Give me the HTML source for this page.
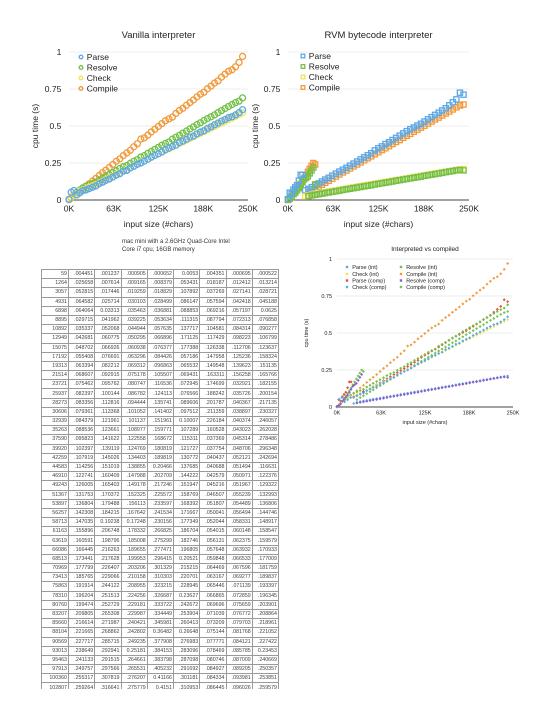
<!DOCTYPE html>
<html><head><meta charset="utf-8">
<style>
html,body{margin:0;padding:0;background:#fff;}
body{width:552px;height:720px;position:relative;overflow:hidden;font-family:"Liberation Sans",sans-serif;}
#svg{position:absolute;left:0;top:0;}
#tablewrap{position:absolute;left:41px;top:269px;width:238px;height:420px;overflow:hidden;}
table{border-collapse:collapse;table-layout:fixed;width:238px;height:424px;}
td{border:1px solid #9a9a9a;height:5px;padding:0 1px 0 0;font-size:5.3px;line-height:6px;text-align:right;color:#444;overflow:hidden;white-space:nowrap;}
td.c0{width:25px;}
</style></head>
<body>
<svg id="svg" width="552" height="720">
<text x="122" y="243" font-size="6" fill="#333">mac mini with a 2.6GHz Quad-Core Intel</text>
<text x="122" y="251" font-size="6" fill="#333">Core i7 cpu, 16GB memory</text>
</svg>
<div id="tablewrap"><table id="tbl"></table></div>
<script>
// ---------- data ----------
const sizes=[59,3057,6898,10892,15075,19313,23721,28273,32939,37590,42259,46910,51367,
56257,61163,66086,70969,75863,80760,85660,90569,95463,100360,105200,110100,115000,
119900,124800,129700,134600,139500,144400,149300,154200,159100,164000,168900,173800,178700,
183600,188500,193400,198300,203200,208100,213000,217900,222800,227700,232600,237500,242400];
const vParse=[0.004,0.053,0.064,0.035,0.049,0.063,0.068,0.077,0.086,0.095,0.110,0.120,0.132,
0.142,0.155,0.168,0.178,0.195,0.200,0.217,0.228,0.241,0.250,0.263,0.276,0.290,
0.302,0.312,0.325,0.340,0.350,0.362,0.371,0.388,0.398,0.410,0.425,0.432,0.447,
0.459,0.468,0.484,0.495,0.508,0.520,0.533,0.544,0.556,0.563,0.575,0.590,0.610];
const vResolve=[0.001,0.018,0.033,0.052,0.067,0.082,0.093,0.102,0.111,0.120,0.135,0.147,0.160,
0.172,0.185,0.198,0.213,0.225,0.233,0.248,0.262,0.273,0.290,0.300,0.315,0.328,
0.342,0.355,0.370,0.382,0.392,0.411,0.424,0.437,0.452,0.466,0.480,0.494,0.510,
0.522,0.537,0.550,0.562,0.575,0.590,0.604,0.618,0.632,0.645,0.658,0.668,0.690];
const vCheck=[0.001,0.019,0.035,0.044,0.061,0.069,0.075,0.086,0.095,0.104,0.115,0.126,0.137,
0.148,0.160,0.172,0.184,0.196,0.207,0.219,0.230,0.241,0.254,0.265,0.277,0.288,
0.300,0.312,0.323,0.335,0.347,0.358,0.370,0.382,0.393,0.405,0.416,0.428,0.440,
0.451,0.463,0.474,0.486,0.497,0.509,0.520,0.532,0.543,0.555,0.566,0.578,0.590];
const vCompile=[0.005,0.013,0.037,0.045,0.060,0.077,0.094,0.110,0.128,0.146,0.166,0.184,0.201,
0.220,0.240,0.262,0.278,0.300,0.318,0.336,0.360,0.380,0.412,0.420,0.438,0.460,
0.478,0.497,0.516,0.535,0.548,0.560,0.585,0.605,0.620,0.640,0.658,0.676,0.697,
0.715,0.728,0.752,0.770,0.790,0.805,0.830,0.850,0.870,0.880,0.900,0.930,0.970];
const N=null;
const rParse=[N,N,N,N,N,N,0.065,0.075,0.087,0.098,0.112,0.125,0.138,
0.150,0.164,0.178,0.192,0.205,0.218,0.232,0.246,0.260,0.274,0.288,0.302,0.316,
0.335,0.350,0.362,0.378,0.390,0.405,0.420,0.435,0.450,0.465,0.478,0.490,0.503,
0.515,0.530,0.545,0.560,0.575,0.590,0.605,0.620,0.640,0.660,0.680,0.725,0.712];
const rResolve=[N,N,N,N,N,N,N,0.027,0.031,0.035,0.039,0.043,0.047,
0.051,0.055,0.059,0.063,0.068,0.072,0.076,0.080,0.084,0.088,0.092,0.096,0.100,
0.105,0.109,0.113,0.117,0.121,0.125,0.130,0.134,0.138,0.142,0.146,0.150,0.154,
0.158,0.163,0.167,0.171,0.175,0.179,0.183,0.188,0.192,0.196,0.200,0.203,0.200];
const rCheck=[N,N,N,N,N,N,0.024,0.032,0.036,0.041,0.045,0.049,0.053,
0.057,0.061,0.065,0.069,0.073,0.077,0.081,0.086,0.090,0.094,0.098,0.102,0.106,
0.110,0.114,0.118,0.122,0.126,0.130,0.134,0.138,0.142,0.146,0.150,0.155,0.159,
0.163,0.167,0.171,0.175,0.179,0.183,0.187,0.191,0.195,0.199,0.203,0.207,0.210];
const rCompile=[N,N,N,N,N,N,N,0.050,0.063,0.076,0.090,0.103,0.116,
0.130,0.144,0.158,0.172,0.186,0.199,0.213,0.227,0.240,0.254,0.268,0.282,0.295,
0.309,0.323,0.337,0.350,0.364,0.378,0.392,0.405,0.420,0.434,0.447,0.461,0.475,
0.489,0.502,0.516,0.530,0.544,0.557,0.571,0.585,0.598,0.612,0.626,0.638,0.645];
const earlyX=[0,2500,5000,7500,10000,12500,15000,17500,20000,22500,25000,27500,30000,32500,35000,37500];
const eParse=[0.005,0.05,0.04,0.07,0.085,0.10,0.13,0.17,0.17,N,N,N,N,N,N,N];
const eResolve=[0.002,0.01,0.02,0.04,0.05,0.065,0.08,0.10,0.12,0.14,0.15,0.16,0.18,0.20,0.22,0.105];
const eCompile=[0,0.01,0.025,0.04,0.06,0.075,0.09,0.11,0.13,0.15,0.17,0.19,0.21,0.23,0.25,0.24];
const xTicks=[0,62500,125000,187500,250000];
const xTickLabels=["0K","63K","125K","188K","250K"];
const yTicks=[0,0.25,0.5,0.75,1];
const yTickLabels=["0","0.25","0.5","0.75","1"];

const tableRows=[
"59 .004451 .001237 .000905 .000652 0.0053 .004351 .000695 .000522",
"1264 .025658 .007614 .009165 .008379 .053431 .018187 .012412 .013214",
"3057 .052815 .017446 .019259 .018829 .107892 .037269 .027141 .028721",
"4931 .064582 .025714 .030103 .028499 .086147 .057594 .042418 .045188",
"6898 .064064 0.03313 .035463 .036881 .088853 .069216 .057197 0.0625",
"8895 .029715 .041962 .039225 .053634 .111315 .087794 .072313 .076858",
"10892 .035337 .052068 .044944 .057635 .137717 .104581 .084314 .090277",
"12949 .042681 .060775 .050295 .066896 .171125 .117429 .098223 .106799",
"15075 .048702 .066926 .060938 .076377 .177388 .126338 .112706 .123637",
"17192 .055408 .076691 .063296 .084426 .057186 .147958 .125236 .158324",
"19313 .063394 .082212 .069312 .096863 .065532 .149548 .139623 .151135",
"21514 .068607 .092915 .075178 .105507 .069431 .163311 .156258 .165766",
"23721 .075462 .095762 .080747 .116536 .072945 .174699 .032921 .182155",
"25937 .082397 .100144 .086782 .124113 .076566 .188242 .035726 .200154",
"28273 .083356 .112816 .094444 .135741 .089606 .201787 .040367 .217135",
"30606 .079361 .113368 .101052 .141402 .097512 .211359 .038897 .230327",
"32939 .084379 .121961 .101137 .151961 0.10007 .226184 .040374 .246057",
"35263 .088536 .123661 .108977 .159771 .107289 .160528 .043023 .262028",
"37590 .095823 .141622 .122558 .168672 .115311 .037369 .045314 .278486",
"39920 .102397 .139119 .124769 .180819 .121727 .037754 .048706 .296348",
"42259 .107919 .145026 .134403 .189819 .130772 .040437 .052121 .242694",
"44583 .114256 .151019 .138855 0.20466 .137685 .040688 .051494 .116631",
"46910 .122741 .160409 .147988 .202709 .144222 .042579 .050971 .122376",
"49243 .126005 .165403 .149178 .217246 .151947 .045216 .051967 .129322",
"51367 .131753 .170372 .152325 .225572 .158769 .046507 .055239 .132993",
"53897 .136804 .179488 .156113 .233597 .168392 .051807 .054489 .136806",
"56257 .142308 .184215 .167642 .241534 .171667 .050041 .056494 .144746",
"58713 .147035 0.19238 0.17248 .230156 .177349 .052044 .058331 .148917",
"61163 .155896 .206748 .178332 .266825 .186704 .054015 .060148 .158547",
"63619 .160591 .198796 .185008 .275299 .182746 .056131 .062375 .159579",
"66086 .166445 .216263 .189655 .277471 .196805 .057648 .063932 .170933",
"68513 .173441 .217628 .199953 .296415 0.20521 .059848 .066533 .177009",
"70969 .177799 .226407 .203206 .301329 .215215 .064469 .067596 .181759",
"73413 .185765 .229066 .210158 .310303 .220701 .063167 .069277 .189837",
"75863 .191914 .244122 .208955 .323215 .228945 .065446 .071139 .193397",
"78310 .196204 .251513 .224256 .326687 0.23627 .066865 .072859 .196345",
"80760 .199474 .252729 .229181 .333722 .242672 .069696 .075659 .203901",
"83207 .209805 .265308 .229987 .334449 .253904 .071039 .076772 .208864",
"85660 .216614 .271987 .240421 .345981 .260413 .073209 .079703 .218961",
"88104 .221665 .268862 .242802 0.36482 0.26648 .075144 .081768 .221052",
"90569 .227717 .285715 .249235 .377908 .276983 .077771 .084121 .227422",
"93013 .238649 .292941 0.25181 .384153 .283096 .078469 .085785 0.23453",
"95463 .241133 .291515 .264661 .383798 .287098 .080746 .087009 .240669",
"97913 .249757 .297566 .265531 .405232 .291692 .084927 .089205 .250357",
"100360 .255317 .307819 .276207 0.41166 .301181 .084334 .093981 .253851",
"102807 .259264 .316641 .275779 0.4151 .310953 .086445 .096026 .259579"];

// ---------- drawing ----------
const NS="http://www.w3.org/2000/svg";
const svg=document.getElementById('svg');
function mk(tag,attrs,parent){const e=document.createElementNS(NS,tag);for(const k in attrs)e.setAttribute(k,attrs[k]);(parent||svg).appendChild(e);return e;}
function txt(x,y,s,size,anchor,fill,parent){const t=mk('text',{x:x,y:y,'font-size':size,'text-anchor':anchor||'start',fill:fill||'#222'},parent);t.textContent=s;return t;}

function makeAxes(c){
  const g=mk('g',{});
  
  
  c.xs=v=>c.x0+v/250000*(c.x1-c.x0);
  c.ys=v=>c.y0-v*(c.y0-c.y1);
  yTicks.forEach((t,i)=>{
    const l=mk('line',{x1:c.x0,x2:c.x1,y1:c.ys(t),y2:c.ys(t),stroke:i===0?'#444':'#e6e6e6','stroke-width':i===0?1:0.8},g);
    
    
    const lb=txt(c.x0-c.fs*0.9,c.ys(t)+c.fs*0.35,yTickLabels[i],c.fs,'end','#222',g);
    
    
  });
  xTicks.forEach((t,i)=>{
    const lb=txt(c.xs(t),c.y0+c.fs*1.35,xTickLabels[i],c.fs,'middle','#222',g);
    
    
  });
  const ti=txt((c.x0+c.x1)/2,c.ty,c.title,c.tfs,'middle','#222',g);
  
  
  const xt=txt((c.x0+c.x1)/2,c.xty,'input size (#chars)',c.afs,'middle','#222',g);
  
  
  const yt=txt(0,0,'cpu time (s)',c.afs,'middle','#222',g);
  yt.setAttribute('transform','translate('+c.ytx+','+((c.y0+c.y1)/2)+') rotate(-90)');
  
  
  return g;
}
function marker(g,shape,x,y,color,sz){
  let m;
  if(shape==='circle') m=mk('circle',{cx:x,cy:y,r:sz,fill:'none',stroke:color,'stroke-width':1.3},g);
  else if(shape==='square') m=mk('rect',{x:x-sz,y:y-sz,width:2*sz,height:2*sz,fill:'none',stroke:color,'stroke-width':1.3},g);
  else if(shape==='dot') m=mk('rect',{x:x-sz,y:y-sz,width:2*sz,height:2*sz,fill:color},g);
  else m=mk('path',{d:'M'+x+' '+(y-sz)+'L'+(x+sz)+' '+y+'L'+x+' '+(y+sz)+'L'+(x-sz)+' '+y+'Z',fill:color},g);
  return m;
}
function series(c,xsArr,vals,color,shape,sz,name){
  const g=mk('g',{});
  
  
  vals.forEach((v,i)=>{
    if(v===null)return;
    const m=marker(g,shape,c.xs(xsArr[i]),c.ys(v),color,sz);
    
    
  });
}
function legend(c,items,shape,sz,fs){
  items.forEach(it=>{
    const g=mk('g',{});
    
    
    marker(g,shape,it.x,it.y,it.color,sz);
    txt(it.x+sz+4,it.y+fs*0.36,it.label,fs,'start','#222',g);
  });
}
const BLUE='#5aa8ea',GREEN='#72c046',YELLOW='#f5e25a',ORANGE='#f29a3a',RED='#e8493a',PURPLE='#8b5ec9',LBLUE='#5cb2ea',GREEN2='#74c452';

// Vanilla
const c1={name:'vanilla-chart',x0:69,x1:248,y0:200,y1:52,fs:8.5,tfs:9.5,afs:8.5,ty:38,xty:227,ytx:38,title:'Vanilla interpreter'};
makeAxes(c1);
series(c1,sizes,vCompile,ORANGE,'circle',3,'compile-vanilla');
series(c1,sizes,vResolve,GREEN,'circle',3,'resolve-vanilla');
series(c1,sizes,vCheck,YELLOW,'circle',3,'check-vanilla');
series(c1,sizes,vParse,BLUE,'circle',3,'parse-vanilla');
legend(c1,[{x:81,y:57,color:BLUE,label:'Parse'},{x:81,y:67.5,color:GREEN,label:'Resolve'},{x:81,y:78,color:YELLOW,label:'Check'},{x:81,y:88.5,color:ORANGE,label:'Compile'}],'circle',1.8,8.5);

// RVM
const c2={name:'rvm-chart',x0:288,x1:469,y0:200,y1:52,fs:8.5,tfs:9.5,afs:8.5,ty:38,xty:227,ytx:258,title:'RVM bytecode interpreter'};
makeAxes(c2);
series(c2,sizes,rCompile,ORANGE,'square',2.6,'compile-rvm');
series(c2,sizes,rParse,BLUE,'square',2.6,'parse-rvm');
series(c2,sizes,rCheck,YELLOW,'square',2.6,'check-rvm');
series(c2,sizes,rResolve,GREEN,'square',2.6,'resolve-rvm');
series(c2,earlyX,eCompile,ORANGE,'square',2.6,'compile-rvm-early');
series(c2,earlyX,eResolve,GREEN,'square',2.6,'resolve-rvm-early');
series(c2,earlyX,eParse,BLUE,'square',2.6,'parse-rvm-early');
legend(c2,[{x:303,y:56,color:BLUE,label:'Parse'},{x:303,y:66.5,color:GREEN,label:'Resolve'},{x:303,y:77,color:YELLOW,label:'Check'},{x:303,y:87.5,color:ORANGE,label:'Compile'}],'square',1.8,8.5);

// Interpreted vs compiled
const c3={name:'interpreted-vs-compiled-chart',x0:337,x1:513,y0:407,y1:259,fs:5.5,tfs:6.5,afs:5.5,ty:251,xty:424,ytx:308,title:'Interpreted vs compiled'};
makeAxes(c3);
series(c3,sizes,vCompile,ORANGE,'diamond',1.5,'compile-int');
series(c3,sizes,rParse,RED,'diamond',1.5,'parse-comp');
series(c3,earlyX,eParse,RED,'diamond',1.5,'parse-comp-early');
series(c3,sizes,vResolve,GREEN,'diamond',1.5,'resolve-int');
series(c3,sizes,rCompile,GREEN2,'diamond',1.5,'compile-comp');
series(c3,earlyX,eCompile,GREEN2,'diamond',1.5,'compile-comp-early');
series(c3,sizes,vCheck,YELLOW,'diamond',1.5,'check-int');
series(c3,sizes,vParse,BLUE,'diamond',1.5,'parse-int');
series(c3,sizes,rCheck,LBLUE,'diamond',1.5,'check-comp');
series(c3,sizes,rResolve,PURPLE,'diamond',1.5,'resolve-comp');
series(c3,earlyX,eResolve,PURPLE,'diamond',1.5,'resolve-comp-early');
legend(c3,[{x:347,y:267,color:BLUE,label:'Parse (int)'},{x:347,y:274,color:YELLOW,label:'Check (int)'},{x:347,y:280.5,color:RED,label:'Parse (comp)'},{x:347,y:287,color:LBLUE,label:'Check (comp)'},
{x:401,y:267,color:GREEN,label:'Resolve (int)'},{x:401,y:274,color:ORANGE,label:'Compile (int)'},{x:401,y:280.5,color:PURPLE,label:'Resolve (comp)'},{x:401,y:287,color:GREEN2,label:'Compile (comp)'}],'dot',1.2,5.5);

// Table
const tbl=document.getElementById('tbl');
tableRows.forEach(r=>{
  const tr=document.createElement('tr');
  
  
  r.split(' ').forEach((v,i)=>{
    const td=document.createElement('td');
    if(i===0)td.className='c0';
    td.textContent=v;
    
    
    tr.appendChild(td);
  });
  tbl.appendChild(tr);
});
</script>
</body></html>
